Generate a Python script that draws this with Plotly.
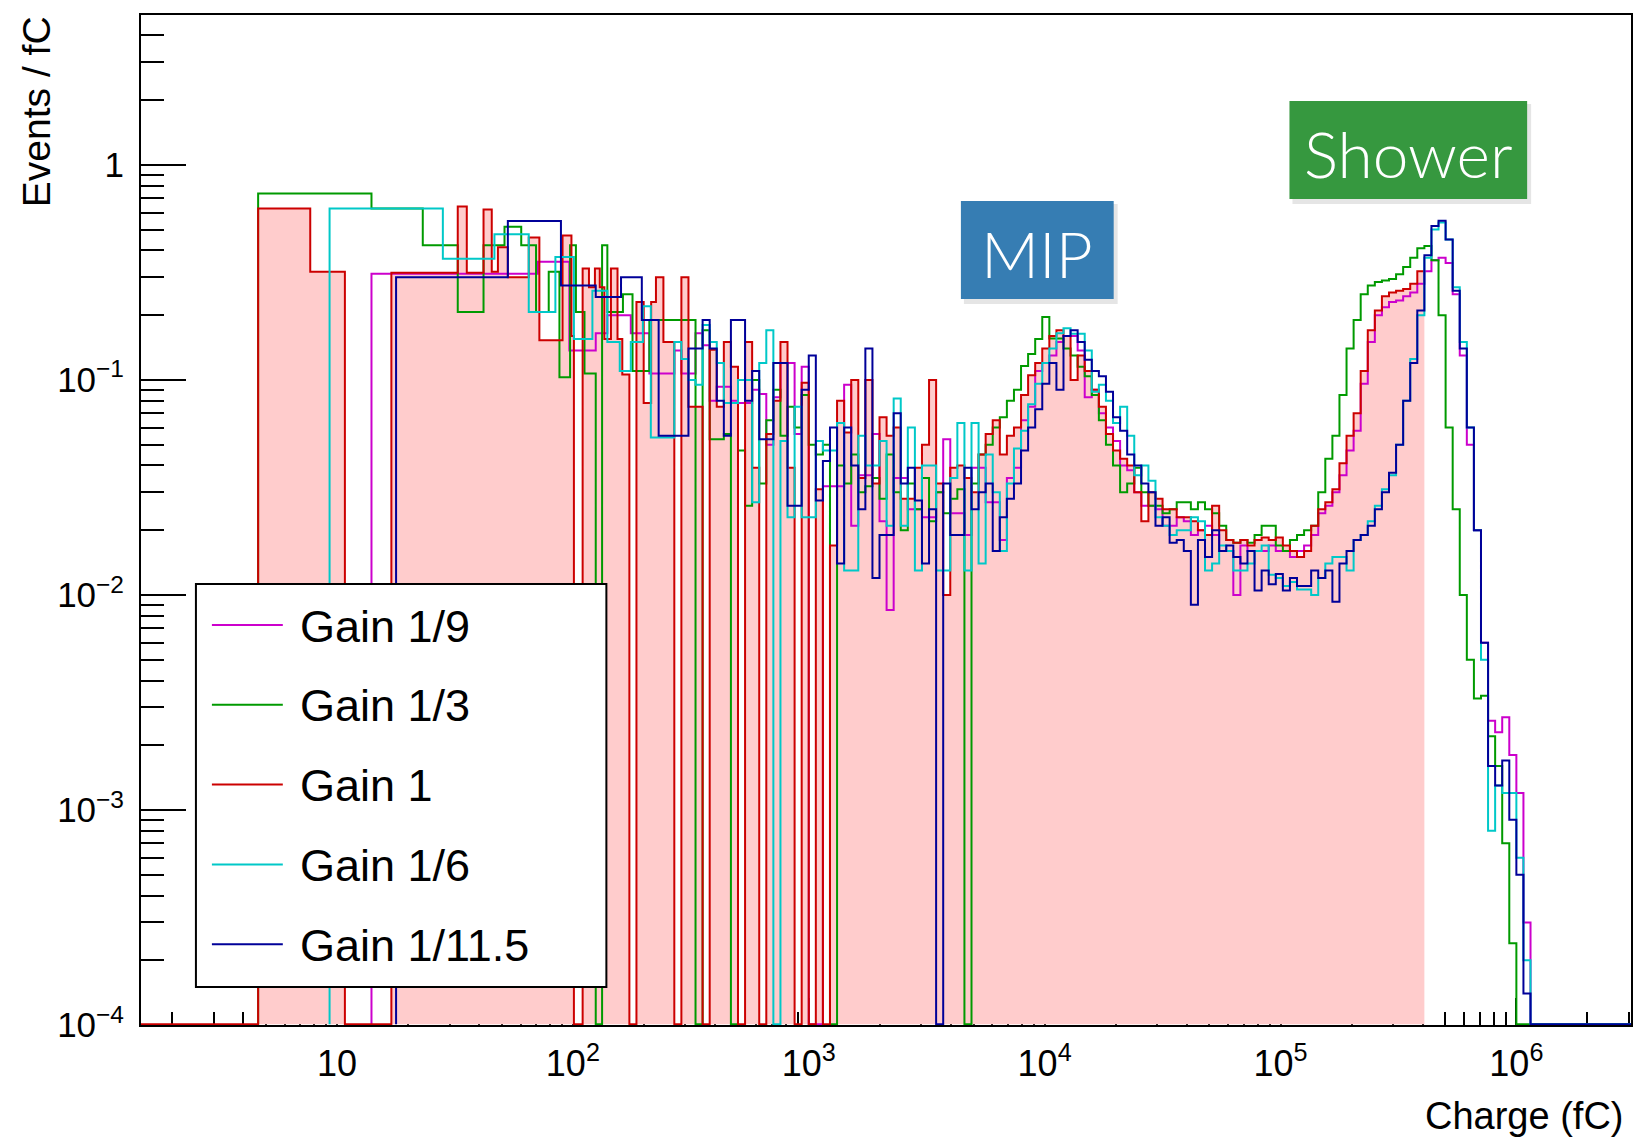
import numpy as np
import plotly.graph_objects as go

# ------------------------------------------------------------------ data
# common fine binning (log10 spaced) used above 10^2.4 fC
GRID_START_LOG = 2.4
GRID_STEP_LOG = 0.03
TAIL_END = 4.0e6          # histograms that continue past the frame

# ---- Gain 1/9 (magenta)
mag_low_edges = [14.0, 71, 96.6, 125, 140, 176, 211]
mag_low_vals = [0.312, 0.354, 0.137, 0.165, 0.2, 0.165, 0.107]
mag_grid_vals = [
    0.107, 0.137, 0.107, 0.107, 0.165, 0.145, 0.08, 0.093, 0.093, 0.08,
    0.078, 0.078, 0.09, 0.086, 0.05, 0.083, 0.12, 0.12, 0.056, 0.115,
    0, 0, 0.032, 0.032, 0.032, 0.095, 0.021, 0.036, 0.036, 0.056,
    0.022, 0.0085, 0.035, 0.035, 0.025, 0.025, 0.023, 0.023, 0.03, 0.053,
    0.024, 0.024, 0.019, 0.039, 0.039, 0.027, 0.027, 0.018, 0.035, 0.039,
    0.065, 0.075, 0.11, 0.12, 0.13, 0.15, 0.16, 0.16, 0.137, 0.083,
    0.09, 0.07, 0.06, 0.052, 0.04, 0.038, 0.03, 0.026, 0.026, 0.025,
    0.021, 0.021, 0.023, 0.022, 0.019, 0.02, 0.021, 0.019, 0.016, 0.016,
    0.01, 0.017, 0.016, 0.016, 0.016, 0.017, 0.016, 0.016, 0.015, 0.016,
    0.017, 0.019, 0.024, 0.026, 0.03, 0.036, 0.047, 0.058, 0.096, 0.15,
    0.2, 0.218, 0.23, 0.234, 0.245, 0.255, 0.28, 0.32, 0.36, 0.37,
    0.35, 0.25, 0.13, 0.05, 0.02, 0.006, 0.0026, 0.0023, 0.0027, 0.0018,
    0.0012, 0.0003, 0, 0]

# ---- Gain 1/3 (green)
grn_low_edges = [4.63, 14.0, 23.1, 32.5, 41.8, 51.3, 60.4, 69.8, 79, 87.7,
                 97.3, 103, 112, 125, 133, 140, 163, 179, 211]
grn_low_vals = [0.736, 0.627, 0.423, 0.207, 0.423, 0.515, 0.423, 0.207, 0.318, 0.103,
                0.423, 0.207, 0.107, 0, 0.423, 0.207, 0.25, 0.11, 0.19]
grn_grid_vals = [
    0.19, 0.19, 0.19, 0.19, 0, 0.17, 0.053, 0.053, 0.056, 0,
    0.047, 0.026, 0.1, 0.033, 0.065, 0.09, 0.055, 0.075, 0.06, 0.085,
    0.05, 0.045, 0.05, 0, 0.04, 0.033, 0.045, 0.03, 0.032, 0.035,
    0.028, 0.045, 0.03, 0.02, 0.033, 0.025, 0.035, 0.022, 0.03, 0.024,
    0.028, 0.031, 0, 0.033, 0.045, 0.05, 0.06, 0.067, 0.08, 0.09,
    0.116, 0.132, 0.155, 0.196, 0.156, 0.156, 0.14, 0.13, 0.115, 0.104,
    0.085, 0.065, 0.05, 0.04, 0.03, 0.033, 0.039, 0.03, 0.026, 0.026,
    0.024, 0.025, 0.027, 0.027, 0.025, 0.027, 0.025, 0.024, 0.021, 0.018,
    0.0175, 0.018, 0.0175, 0.019, 0.021, 0.021, 0.017, 0.016, 0.018, 0.019,
    0.02, 0.021, 0.03, 0.043, 0.055, 0.085, 0.14, 0.19, 0.25, 0.275,
    0.285, 0.29, 0.295, 0.31, 0.335, 0.37, 0.41, 0.42, 0.36, 0.2,
    0.06, 0.025, 0.01, 0.005, 0.0033, 0.0034, 0.0022, 0.0016, 0.0007, 0.00024,
    0, 0, 0, 0]

# ---- Gain 1 (red, filled) : range stops at ~4e5 fC
red_low_edges = [1.0, 4.63, 7.7, 10.8, 17.0, 32.5, 35.5, 41.8, 45.3, 48.1,
                 53.0, 65.0, 72.1, 90.4, 98.6, 101, 110, 117, 124, 130,
                 136, 145, 154.6, 162, 173.6, 186, 199.6, 214.7, 225, 242]
red_low_vals = [0, 0.627, 0.318, 0, 0.315, 0.64, 0.315, 0.62, 0.318, 0.414,
                0.30, 0.46, 0.153, 0.47, 0.16, 0, 0.33, 0.27, 0.33, 0.27,
                0.155, 0.33, 0.155, 0.106, 0, 0.23, 0.078, 0.23, 0.30, 0.15]
red_grid_vals = [
    0.15, 0, 0.30, 0.075, 0.075, 0, 0.138, 0.075, 0.15, 0.115,
    0, 0.15, 0.039, 0, 0.056, 0.08, 0.15, 0.039, 0, 0.097,
    0, 0.031, 0, 0.017, 0.08, 0.057, 0.1, 0.035, 0.1, 0.033,
    0.067, 0.055, 0.06, 0.028, 0.028, 0.039, 0.05, 0.1, 0.033, 0.01,
    0.039, 0.04, 0.035, 0.03, 0.045, 0.056, 0.065, 0.045, 0.055, 0.06,
    0.085, 0.105, 0.12, 0.14, 0.16, 0.17, 0.16, 0.1, 0.13, 0.11,
    0.09, 0.075, 0.056, 0.047, 0.043, 0.04, 0.03, 0.022, 0.03, 0.028,
    0.025, 0.025, 0.023, 0.023, 0.022, 0.02, 0.019, 0.026, 0.02, 0.018,
    0.0175, 0.018, 0.017, 0.018, 0.0185, 0.018, 0.0185, 0.017, 0.016, 0.015,
    0.016, 0.021, 0.025, 0.027, 0.031, 0.041, 0.055, 0.07, 0.11, 0.17,
    0.21, 0.245, 0.255, 0.26, 0.265, 0.28, 0.32]

# ---- Gain 1/6 (cyan)
cyn_low_edges = [9.3, 28.1, 46.5, 65, 84.3, 101, 121, 140, 158, 176, 198, 214]
cyn_low_vals = [0.627, 0.366, 0.476, 0.207, 0.373, 0.155, 0.26, 0.15, 0.11, 0.15, 0.22, 0.054]
cyn_grid_vals = [
    0.054, 0.15, 0.125, 0.1, 0.095, 0.18, 0.15, 0.12, 0.078, 0.078,
    0.1, 0.1, 0.027, 0.12, 0.17, 0, 0.052, 0.023, 0.075, 0.023,
    0.023, 0.052, 0.047, 0.047, 0.063, 0.013, 0.013, 0.055, 0.04, 0.04,
    0.052, 0.021, 0.082, 0.021, 0.06, 0.013, 0.04, 0.04, 0.013, 0.013,
    0.035, 0.063, 0.013, 0.063, 0.014, 0.045, 0.03, 0.016, 0.033, 0.048,
    0.058, 0.077, 0.096, 0.12, 0.14, 0.165, 0.174, 0.164, 0.164, 0.137,
    0.088, 0.095, 0.08, 0.063, 0.075, 0.055, 0.036, 0.04, 0.034, 0.023,
    0.021, 0.019, 0.02, 0.02, 0.023, 0.022, 0.013, 0.014, 0.017, 0.016,
    0.013, 0.013, 0.014, 0.016, 0.017, 0.0124, 0.012, 0.011, 0.0115, 0.0106,
    0.0106, 0.01, 0.012, 0.014, 0.015, 0.015, 0.013, 0.018, 0.019, 0.022,
    0.026, 0.031, 0.036, 0.05, 0.08, 0.125, 0.2, 0.37, 0.5, 0.54,
    0.45, 0.27, 0.15, 0.06, 0.02, 0.005, 0.0008, 0.0013, 0.0012, 0.0012,
    0.0006, 0.0002, 0, 0]

# ---- Gain 1/11.5 (dark blue)
blu_low_edges = [17.8, 53, 89, 125, 160, 196, 231]
blu_low_vals = [0.30, 0.548, 0.275, 0.243, 0.30, 0.19, 0.055]
blu_grid_vals = [
    0.055, 0.055, 0.055, 0.14, 0.14, 0.19, 0.14, 0.08, 0.055, 0.19,
    0.19, 0.08, 0.11, 0.053, 0.053, 0.12, 0.12, 0.026, 0.026, 0.09,
    0.13, 0.0275, 0.042, 0.06, 0.014, 0.06, 0.04, 0.025, 0.14, 0.012,
    0.019, 0.019, 0.07, 0.033, 0.039, 0.0275, 0.014, 0.025, 0, 0.033,
    0.019, 0.019, 0.039, 0.025, 0.03, 0.033, 0.016, 0.023, 0.028, 0.033,
    0.047, 0.06, 0.073, 0.096, 0.12, 0.09, 0.16, 0.17, 0.15, 0.124,
    0.11, 0.104, 0.088, 0.067, 0.058, 0.045, 0.04, 0.033, 0.03, 0.021,
    0.023, 0.0175, 0.018, 0.016, 0.009, 0.018, 0.015, 0.02, 0.016, 0.017,
    0.015, 0.014, 0.016, 0.0105, 0.013, 0.0112, 0.0125, 0.0105, 0.012, 0.011,
    0.011, 0.013, 0.012, 0.013, 0.0093, 0.014, 0.016, 0.018, 0.019, 0.021,
    0.025, 0.03, 0.037, 0.05, 0.08, 0.12, 0.21, 0.38, 0.52, 0.55,
    0.45, 0.26, 0.14, 0.06, 0.02, 0.006, 0.0016, 0.0013, 0.0017, 0.0009,
    0.0005, 0.00014, 0, 0]

series_names = ["Gain 1/9", "Gain 1/3", "Gain 1", "Gain 1/6", "Gain 1/11.5"]
series_colors = ["#cc00cc", "#009a00", "#cc0000", "#00c8c8", "#000099"]
series_low_edges = [mag_low_edges, grn_low_edges, red_low_edges, cyn_low_edges, blu_low_edges]
series_low_vals = [mag_low_vals, grn_low_vals, red_low_vals, cyn_low_vals, blu_low_vals]
series_grid_vals = [mag_grid_vals, grn_grid_vals, red_grid_vals, cyn_grid_vals, blu_grid_vals]
series_has_tail = [True, True, False, True, True]
FILL_SERIES = 2
FILL_COLOR = "#ffcccc"

x_tick_vals = [10, 1e2, 1e3, 1e4, 1e5, 1e6]
x_tick_text = ["10", "10<sup>2</sup>", "10<sup>3</sup>", "10<sup>4</sup>", "10<sup>5</sup>", "10<sup>6</sup>"]
y_tick_vals = [1e-4, 1e-3, 1e-2, 1e-1, 1]
y_tick_text = ["10<sup>\u22124</sup>", "10<sup>\u22123</sup>", "10<sup>\u22122</sup>", "10<sup>\u22121</sup>", "1"]

X_RANGE_LOG = [0.169, 6.486]
Y_RANGE_LOG = [-4.0, 0.697]

# ------------------------------------------------------------------ layout geometry (pixels)
W, H = 1635, 1138
PL, PR, PT, PB = 141, 1633, 15, 1025
FONT = "Liberation Sans, Arial, Helvetica, sans-serif"
FLOOR = 10 ** (Y_RANGE_LOG[0] + 0.004)


def px(xp):
    return (xp - PL) / (PR - PL)


def py(yp):
    return (PB - yp) / (PB - PT)


def build(low_edges, low_vals, grid_vals, tail):
    edges = list(low_edges) + [10 ** (GRID_START_LOG + GRID_STEP_LOG * k) for k in range(len(grid_vals) + 1)]
    vals = list(low_vals) + list(grid_vals)
    if tail:
        edges.append(TAIL_END)
        vals.append(0)
    xs, ys = [edges[0]], [FLOOR]
    for k, v in enumerate(vals):
        vv = v if v > 0 else FLOOR
        xs += [edges[k], edges[k + 1]]
        ys += [vv, vv]
    return xs, ys


fig = go.Figure()
curves = [build(series_low_edges[i], series_low_vals[i], series_grid_vals[i], series_has_tail[i])
          for i in range(5)]

# filled area of the Gain 1 histogram (drawn first, below every outline)
fx, fy = curves[FILL_SERIES]
fig.add_trace(go.Scatter(x=fx + [fx[-1]], y=fy + [FLOOR], mode="lines", fill="toself",
                         fillcolor=FILL_COLOR, line=dict(width=0), hoverinfo="skip",
                         showlegend=False))
for i in range(5):
    xs, ys = curves[i]
    fig.add_trace(go.Scatter(x=xs, y=ys, mode="lines", name=series_names[i],
                             line=dict(color=series_colors[i], width=2),
                             showlegend=False))

# minor-tick carrier (invisible) for overlay axes
fig.add_trace(go.Scatter(x=[10], y=[0.01], xaxis="x2", yaxis="y2", mode="markers",
                         marker=dict(opacity=0), showlegend=False, hoverinfo="skip"))

x_minor = [k * 10 ** d for d in range(0, 7) for k in range(2, 10)
           if X_RANGE_LOG[0] < np.log10(k * 10 ** d) < X_RANGE_LOG[1]]
y_minor = [k * 10 ** d for d in range(-4, 1) for k in range(2, 10)
           if Y_RANGE_LOG[0] < np.log10(k * 10 ** d) < Y_RANGE_LOG[1]]

axis_common = dict(type="log", showgrid=False, zeroline=False, layer="below traces")
fig.update_layout(
    width=W, height=H,
    margin=dict(l=PL, r=W - PR, t=PT, b=H - PB),
    paper_bgcolor="white", plot_bgcolor="white",
    showlegend=False,
    font=dict(family=FONT, color="black"),
    xaxis=dict(**axis_common, range=X_RANGE_LOG, showline=True, linecolor="black", linewidth=2,
               mirror=True, ticks="inside", ticklen=27, tickwidth=2, tickcolor="black",
               tickvals=x_tick_vals, ticktext=x_tick_text, ticklabelstandoff=6,
               tickfont=dict(size=36, family=FONT, color="black")),
    yaxis=dict(**axis_common, range=Y_RANGE_LOG, showline=True, linecolor="black", linewidth=2,
               mirror=True, ticks="inside", ticklen=45, tickwidth=2, tickcolor="black",
               tickvals=y_tick_vals, ticktext=y_tick_text, ticklabelstandoff=8,
               tickfont=dict(size=35, family=FONT, color="black")),
    xaxis2=dict(**axis_common, range=X_RANGE_LOG, overlaying="x", anchor="y2", side="bottom",
                showline=False, ticks="inside", ticklen=13, tickwidth=2, tickcolor="black",
                tickvals=x_minor, showticklabels=False),
    yaxis2=dict(**axis_common, range=Y_RANGE_LOG, overlaying="y", anchor="x2", side="left",
                showline=False, ticks="inside", ticklen=23, tickwidth=2, tickcolor="black",
                tickvals=y_minor, showticklabels=False),
)

shapes = []
annotations = []

# axis titles (ROOT style: right / top aligned)
annotations.append(dict(text="Charge (fC)", xref="paper", yref="paper", x=px(1628), y=py(1116),
                        xanchor="right", yanchor="middle", showarrow=False,
                        font=dict(size=38, family=FONT, color="black")))
annotations.append(dict(text="Events / fC", xref="paper", yref="paper", x=px(37), y=py(112),
                        xanchor="center", yanchor="middle", textangle=-90, showarrow=False,
                        font=dict(size=39, family=FONT, color="black")))

# legend box
LEG = dict(x0=196, x1=607, y0=584, y1=987, row0=625, drow=79.8, lx0=212, lx1=283, tx=298)
shapes.append(dict(type="rect", xref="paper", yref="paper", x0=px(LEG["x0"]), x1=px(LEG["x1"]),
                   y0=py(LEG["y1"]), y1=py(LEG["y0"]), line=dict(color="black", width=2),
                   fillcolor="white", layer="above"))
for i in range(5):
    yy = LEG["row0"] + i * LEG["drow"]
    shapes.append(dict(type="line", xref="paper", yref="paper", x0=px(LEG["lx0"]), x1=px(LEG["lx1"]),
                       y0=py(yy), y1=py(yy), line=dict(color=series_colors[i], width=2), layer="above"))
    annotations.append(dict(text=series_names[i], xref="paper", yref="paper", x=px(LEG["tx"]), y=py(yy + 1),
                            xanchor="left", yanchor="middle", showarrow=False,
                            font=dict(size=45, family=FONT, color="black")))

# labelled boxes
boxes = [("MIP", 962, 1115, 201, 299, "#367db3"), ("Shower", 1291, 1529, 101, 199, "#36983f")]
for text, x0, x1, y0, y1, col in boxes:
    shapes.append(dict(type="rect", xref="paper", yref="paper", x0=px(x0 + 3), x1=px(x1 + 4),
                       y0=py(y1 + 5), y1=py(y0 + 3), line=dict(width=0),
                       fillcolor="rgba(0,0,0,0.10)", layer="above"))
    shapes.append(dict(type="rect", xref="paper", yref="paper", x0=px(x0), x1=px(x1),
                       y0=py(y1), y1=py(y0), line=dict(width=0), fillcolor=col, layer="above"))
    annotations.append(dict(text=text, xref="paper", yref="paper", x=px((x0 + x1) / 2),
                            y=py((y0 + y1) / 2 + 3), xanchor="center", yanchor="middle",
                            showarrow=False,
                            font=dict(size=64, family="Lato, Roboto, sans-serif", color="white",
                                      weight=300)))

fig.update_layout(shapes=shapes, annotations=annotations)
fig.write_html("out.html")
